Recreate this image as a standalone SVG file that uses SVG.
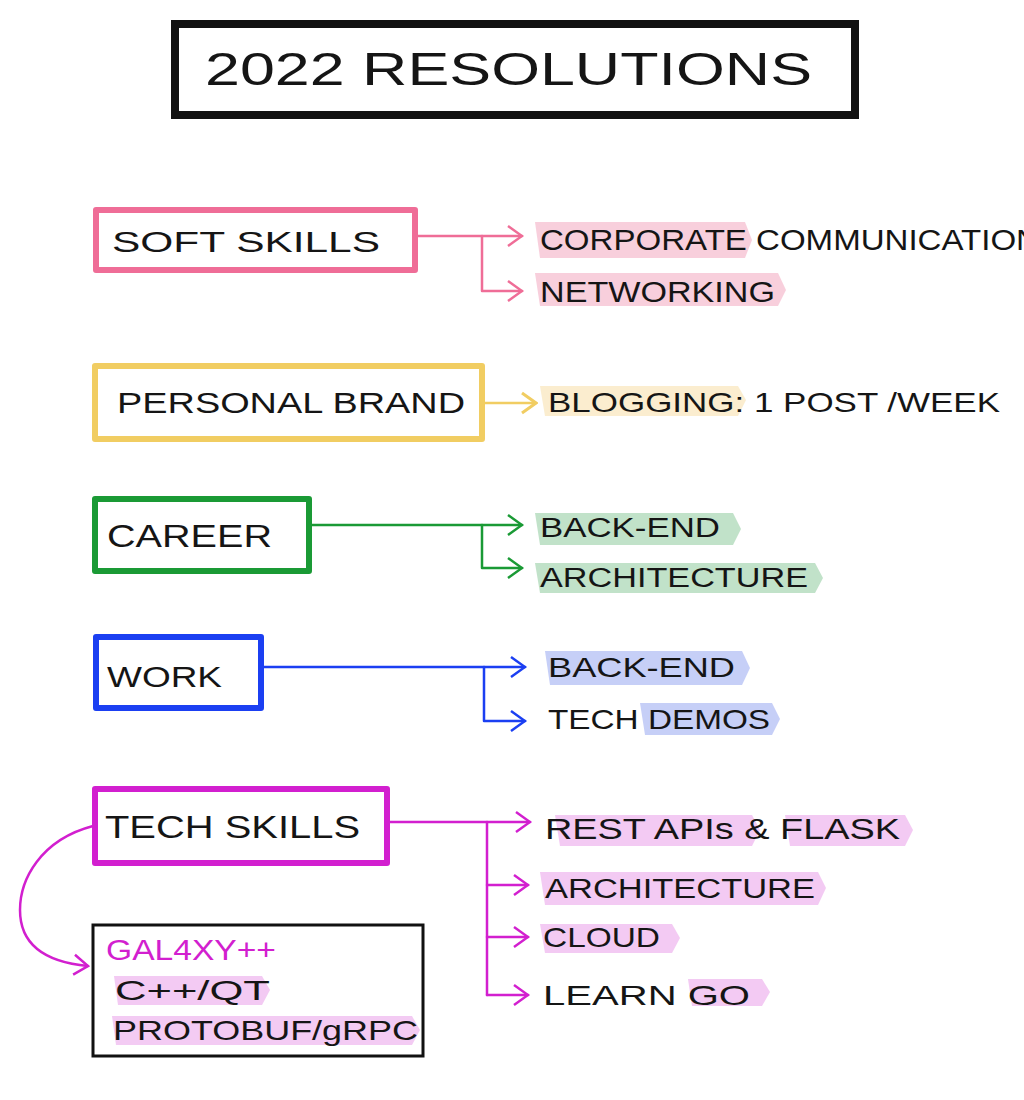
<svg xmlns="http://www.w3.org/2000/svg" width="1024" height="1100" viewBox="0 0 1024 1100">
<style>
.t{font-family:"Liberation Sans","DejaVu Sans",sans-serif;fill:#151515;lengthAdjust:spacing}
.box{fill:#fff;stroke-width:6;stroke-linejoin:round}
.ln{fill:none;stroke-width:2.5;stroke-linecap:round;stroke-linejoin:round}
.pk{stroke:#ef6d97}.ye{stroke:#f1cd62}.gr{stroke:#1a9a35}.bl{stroke:#1b3ff2}.mg{stroke:#d21fcf}
</style>
<defs>
<marker id="aPk" viewBox="0 0 20 24" refX="18" refY="12" markerWidth="20" markerHeight="24" markerUnits="userSpaceOnUse" orient="auto"><path d="M4,2 L18,12 L4,22" fill="none" stroke="#ef6d97" stroke-width="2.5"/></marker>
<marker id="aYe" viewBox="0 0 20 24" refX="18" refY="12" markerWidth="20" markerHeight="24" markerUnits="userSpaceOnUse" orient="auto"><path d="M4,2 L18,12 L4,22" fill="none" stroke="#f1cd62" stroke-width="3"/></marker>
<marker id="aGr" viewBox="0 0 20 24" refX="18" refY="12" markerWidth="20" markerHeight="24" markerUnits="userSpaceOnUse" orient="auto"><path d="M4,2 L18,12 L4,22" fill="none" stroke="#1a9a35" stroke-width="2.5"/></marker>
<marker id="aBl" viewBox="0 0 20 24" refX="18" refY="12" markerWidth="20" markerHeight="24" markerUnits="userSpaceOnUse" orient="auto"><path d="M4,2 L18,12 L4,22" fill="none" stroke="#1b3ff2" stroke-width="2.5"/></marker>
<marker id="aMg" viewBox="0 0 20 24" refX="18" refY="12" markerWidth="20" markerHeight="24" markerUnits="userSpaceOnUse" orient="auto"><path d="M4,2 L18,12 L4,22" fill="none" stroke="#d21fcf" stroke-width="2.5"/></marker>
</defs>
<rect width="1024" height="1100" fill="#fff"/>

<!-- highlights -->
<g id="highlights" opacity="0.55">
<polygon points="535,222 745,222 752,240 745,258 540,258" fill="#f3a8c0"/>
<polygon points="535,273 778,273 786,290 778,306 540,306" fill="#f3a8c0"/>
<polygon points="540,386 738,386 746,400 738,416 545,416" fill="#f8e0a8"/>
<polygon points="535,513 733,513 741,529 733,545 540,545" fill="#8fcb9e"/>
<polygon points="535,563 815,563 823,578 815,593 540,593" fill="#8fcb9e"/>
<polygon points="545,651 742,651 750,668 742,685 550,685" fill="#98a8f2"/>
<polygon points="640,703 772,703 780,719 772,735 645,735" fill="#98a8f2"/>
<polygon points="555,815 752,815 760,830 752,846 560,846" fill="#eaa0ea"/>
<polygon points="785,815 905,815 913,830 905,846 790,846" fill="#eaa0ea"/>
<polygon points="540,872 818,872 826,888 818,905 545,905" fill="#eaa0ea"/>
<polygon points="540,924 672,924 680,938 672,953 545,953" fill="#eaa0ea"/>
<polygon points="688,979 762,979 770,992 762,1006 692,1006" fill="#eaa0ea"/>
<polygon points="114,976 262,976 270,990 262,1005 118,1005" fill="#eaa0ea"/>
<polygon points="112,1016 412,1016 420,1030 412,1045 116,1045" fill="#eaa0ea"/>
</g>

<g id="title">
<rect x="175" y="24" width="680" height="91" fill="#fff" stroke="#111" stroke-width="8"/>
<text class="t" x="205" y="85" font-size="46" textLength="607" lengthAdjust="spacingAndGlyphs">2022 RESOLUTIONS</text>
</g>

<g id="connectors">
<path class="ln pk" d="M416,236 H522" marker-end="url(#aPk)"/>
<path class="ln pk" d="M482,236 V291 H522" marker-end="url(#aPk)"/>
<path class="ln ye" d="M484,403 H536" stroke-width="3" marker-end="url(#aYe)"/>
<path class="ln gr" d="M310,525 H522" marker-end="url(#aGr)"/>
<path class="ln gr" d="M482,525 V568 H522" marker-end="url(#aGr)"/>
<path class="ln bl" d="M262,667 H525" marker-end="url(#aBl)"/>
<path class="ln bl" d="M484,667 V721 H525" marker-end="url(#aBl)"/>
<path class="ln mg" d="M388,822 H530" marker-end="url(#aMg)"/>
<path class="ln mg" d="M487,822 V995"/>
<path class="ln mg" d="M487,885 H528" marker-end="url(#aMg)"/>
<path class="ln mg" d="M487,937 H528" marker-end="url(#aMg)"/>
<path class="ln mg" d="M487,995 H528" marker-end="url(#aMg)"/>
<path class="ln mg" d="M93,826 C40,840 20,880 20,910 C20,945 45,962 88,966" marker-end="url(#aMg)"/>
</g>

<g id="soft-skills">
<rect class="box pk" x="96" y="210" width="319" height="60"/>
<text class="t" x="112" y="252" font-size="30" textLength="268" lengthAdjust="spacingAndGlyphs">SOFT SKILLS</text>
</g>
<g id="soft-skills-items">
<text class="t" x="540" y="250" font-size="30" textLength="500" lengthAdjust="spacingAndGlyphs">CORPORATE COMMUNICATION</text>
<text class="t" x="540" y="302" font-size="30" textLength="235" lengthAdjust="spacingAndGlyphs">NETWORKING</text>
</g>

<g id="personal-brand">
<rect class="box ye" x="95" y="366" width="387" height="73"/>
<text class="t" x="117" y="413" font-size="30" textLength="348" lengthAdjust="spacingAndGlyphs">PERSONAL BRAND</text>
</g>
<g id="personal-brand-items">
<text class="t" x="548" y="412" font-size="28" textLength="452" lengthAdjust="spacingAndGlyphs">BLOGGING: 1 POST /WEEK</text>
</g>

<g id="career">
<rect class="box gr" x="95" y="499" width="214" height="72"/>
<text class="t" x="107" y="547" font-size="32" textLength="165" lengthAdjust="spacingAndGlyphs">CAREER</text>
</g>
<g id="career-items">
<text class="t" x="540" y="537" font-size="27" textLength="180" lengthAdjust="spacingAndGlyphs">BACK-END</text>
<text class="t" x="540" y="587" font-size="27" textLength="268" lengthAdjust="spacingAndGlyphs">ARCHITECTURE</text>
</g>

<g id="work">
<rect class="box bl" x="96" y="637" width="165" height="71"/>
<text class="t" x="107" y="687" font-size="30" textLength="115" lengthAdjust="spacingAndGlyphs">WORK</text>
</g>
<g id="work-items">
<text class="t" x="548" y="677" font-size="28" textLength="187" lengthAdjust="spacingAndGlyphs">BACK-END</text>
<text class="t" x="548" y="729" font-size="28" textLength="222" lengthAdjust="spacingAndGlyphs">TECH DEMOS</text>
</g>

<g id="tech-skills">
<rect class="box mg" x="95" y="789" width="292" height="74"/>
<text class="t" x="105" y="838" font-size="32" textLength="255" lengthAdjust="spacingAndGlyphs">TECH SKILLS</text>
</g>
<g id="tech-skills-items">
<text class="t" x="545" y="839" font-size="30" textLength="355" lengthAdjust="spacingAndGlyphs">REST APIs &amp; FLASK</text>
<text class="t" x="545" y="898" font-size="27" textLength="270" lengthAdjust="spacingAndGlyphs">ARCHITECTURE</text>
<text class="t" x="543" y="947" font-size="28" textLength="117" lengthAdjust="spacingAndGlyphs">CLOUD</text>
<text class="t" x="543" y="1005" font-size="28" textLength="207" lengthAdjust="spacingAndGlyphs">LEARN GO</text>
</g>

<g id="galaxy">
<rect x="93" y="925" width="330" height="131" fill="none" stroke="#111" stroke-width="3"/>
<text class="t" x="106" y="960" font-size="30" fill="#d21fcf" style="fill:#d21fcf" textLength="170" lengthAdjust="spacingAndGlyphs">GAL4XY++</text>
<text class="t" x="115" y="1000" font-size="28" textLength="155" lengthAdjust="spacingAndGlyphs">C++/QT</text>
<text class="t" x="113" y="1040" font-size="28" textLength="305" lengthAdjust="spacingAndGlyphs">PROTOBUF/gRPC</text>
</g>
</svg>
